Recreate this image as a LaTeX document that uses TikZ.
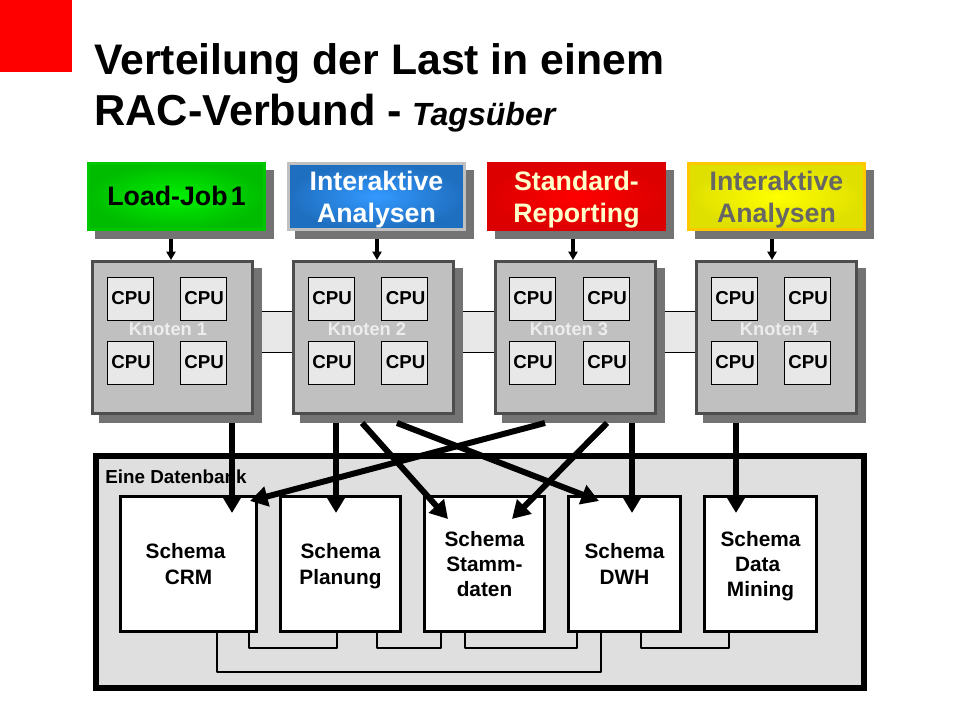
\documentclass[tikz,border=0pt]{standalone}
\usepackage{fontspec}
\setmainfont{Liberation Sans}
\usepackage{tikz}
\usetikzlibrary{arrows.meta,calc,shadows}
\definecolor{shadowgray}{HTML}{737373}
\definecolor{knotengray}{HTML}{C0C0C0}
\definecolor{knotenedge}{HTML}{4D4D4D}
\definecolor{cpugray}{HTML}{E8E8E8}
\definecolor{dbgray}{HTML}{DFDFDF}
\definecolor{greenedge}{HTML}{00C800}
\definecolor{greenmid}{HTML}{00F000}
\definecolor{greenout}{HTML}{00BC00}
\definecolor{bluemid}{HTML}{3399FF}
\definecolor{blueout}{HTML}{1F6FC0}
\definecolor{redout}{HTML}{DD0000}
\definecolor{creamtext}{HTML}{FFFFCC}
\definecolor{yellowedge}{HTML}{FFC800}
\definecolor{yellowout}{HTML}{DFDF00}
\definecolor{graytext}{HTML}{666666}

\begin{document}
\begin{tikzpicture}[x=0.025cm,y=0.025cm]
                \tikzstyle{every node}+=[inner sep=0pt]
                \tikzstyle{boxshadow}=[drop shadow={shadow xshift=0.2cm,shadow yshift=-0.2cm,fill=shadowgray,draw=shadowgray,opacity=1}]
                \tikzstyle{jobbox}=[rectangle,line width=2.1pt,minimum width=4.4cm,minimum height=1.65cm,align=center,font=\bfseries\fontsize{19}{22.7}\selectfont,boxshadow]
                \tikzstyle{twolines}=[text depth=-0.3pt]
                \tikzstyle{knotenbox}=[rectangle,draw=knotenedge,fill=knotengray,line width=2.1pt,minimum width=4cm,minimum height=3.8cm,boxshadow]
                \tikzstyle{knotenlabel}=[text=white!93!black,font=\bfseries\fontsize{13}{15}\selectfont]
                \tikzstyle{cpubox}=[rectangle,draw=black,fill=cpugray,line width=0.6pt,minimum width=1.15cm,minimum height=1.075cm,font=\bfseries\fontsize{13.3}{15}\selectfont,execute at begin node={\kern 1.5pt}]
                \tikzstyle{bandbox}=[rectangle,fill=cpugray,outer sep=0pt,minimum height=1.025cm]
                \tikzstyle{schemabox}=[rectangle,draw=black,fill=white,line width=2.1pt,minimum height=3.375cm,align=center,font=\bfseries\fontsize{14.8}{18}\selectfont,text depth=-1.16pt]
                \tikzstyle{busline}=[black,line width=2pt,line join=round]
                \tikzstyle{bigarrow}=[black,line width=4.25pt,-{Triangle[length=12.5pt,width=14pt]}]
                \tikzstyle{smallarrow}=[black,line width=2.3pt,-{Triangle[length=6pt,width=6.5pt]}]
                \useasboundingbox (0,0) rectangle (960,-720);
                \fill [red] (0,0) rectangle (72,-72);
                \node (titleone) [anchor=base west,font=\bfseries\fontsize{30.4}{36}\selectfont] at (94,-75) {Verteilung der Last in einem};
                \node (titletwo) [anchor=base west,font=\bfseries\fontsize{30.8}{36}\selectfont] at (94,-126) {RAC-Verbund - \kern-1.5pt{\itshape\fontsize{22.8}{26}\selectfont Tagsüber}};
                \node (db) [rectangle,draw=black,fill=dbgray,line width=4.25pt,minimum width=19.2cm,minimum height=5.8cm] at (480,-572) {};
                \node (dblabel) [anchor=base west,font=\bfseries\fontsize{13.4}{16}\selectfont] at (105,-484) {Eine Datenbank};
                \node (crm) [schemabox,minimum width=3.4cm] at (188.5,-564) {Schema\kern.28em\\CRM};
                \node (planung) [schemabox,minimum width=3cm] at (340.5,-564) {Schema\\Planung};
                \node (stamm) [schemabox,minimum width=3cm] at (484.5,-564) {Schema\\Stamm-\\daten};
                \node (dwh) [schemabox,minimum width=2.8cm] at (624.5,-564) {Schema\\DWH};
                \node (mining) [schemabox,minimum width=2.8cm] at (760.5,-564) {Schema\\Data\kern.28em\\Mining};
                \draw [busline] ($(crm.south)+(60.5,0)$) -- ++(0,-15) -| ($(planung.south)+(-3.5,0)$);
                \draw [busline] ($(planung.south)+(36.5,0)$) -- ++(0,-15) -| ($(stamm.south)+(-43.5,0)$);
                \draw [busline] ($(stamm.south)+(-19.5,0)$) -- ++(0,-15) -| ($(dwh.south)+(-47.5,0)$);
                \draw [busline] ($(dwh.south)+(16.5,0)$) -- ++(0,-15) -| ($(mining.south)+(-31.5,0)$);
                \draw [busline] ($(crm.south)+(28.5,0)$) -- ++(0,-39) -| ($(dwh.south)+(-23.5,0)$);
                \node (bandone) [bandbox,minimum width=0.95cm] at (273,-331.5) {};
                \node (bandtwo) [bandbox,minimum width=0.975cm] at (474.5,-331.5) {};
                \node (bandthree) [bandbox,minimum width=0.95cm] at (676,-331.5) {};
                \draw [black,line width=0.6pt] (bandone.north west) -- (bandone.north east);
                \draw [black,line width=0.6pt] (bandone.south west) -- (bandone.south east);
                \draw [black,line width=0.6pt] (bandtwo.north west) -- (bandtwo.north east);
                \draw [black,line width=0.6pt] (bandtwo.south west) -- (bandtwo.south east);
                \draw [black,line width=0.6pt] (bandthree.north west) -- (bandthree.north east);
                \draw [black,line width=0.6pt] (bandthree.south west) -- (bandthree.south east);
                \node (knotenone) [knotenbox] at (172.5,-337.5) {};
                \node (knotentwo) [knotenbox] at (373.5,-337.5) {};
                \node (knotenthree) [knotenbox] at (575.5,-337.5) {};
                \node (knotenfour) [knotenbox] at (776.5,-337.5) {};
                \draw [bigarrow] ($(knotenone.south)+(59.5,-8)$) -- ($(crm.north)+(43.5,-18)$);
                \draw [bigarrow] ($(knotentwo.south)+(-37.5,-8)$) -- ($(planung.north)+(-4.5,-18)$);
                \draw [bigarrow] ($(knotentwo.south)+(-11.4,-8)$) -- ($(stamm.north)+(-36.5,-24)$);
                \draw [bigarrow] ($(knotentwo.south)+(23.5,-8)$) -- ($(dwh.north)+(-25.5,-6)$);
                \draw [bigarrow] ($(knotenthree.south)+(-30.5,-8)$) -- ($(crm.north)+(61.5,-6)$);
                \draw [bigarrow] ($(knotenthree.south)+(31.5,-8)$) -- ($(stamm.north)+(27.5,-24)$);
                \draw [bigarrow] ($(knotenthree.south)+(56.5,-8)$) -- ($(dwh.north)+(7.5,-18)$);
                \draw [bigarrow] ($(knotenfour.south)+(-40.5,-8)$) -- ($(mining.north)+(-24.5,-18)$);
                \node (jobone) [jobbox,draw=greenedge,shade,inner color=greenmid,outer color=greenout] at (176.5,-196.5) {\rule[-1.5pt]{0pt}{1pt}Load-Job\kern.12em 1};
                \node (jobtwo) [jobbox,twolines,draw=knotengray,shade,inner color=bluemid,outer color=blueout,text=white] at (376.5,-196.5) {Interaktive\\Analysen};
                \node (jobthree) [jobbox,twolines,draw=redout,shade,inner color=red,outer color=redout,text=creamtext] at (576.5,-196.5) {Standard-\\Reporting};
                \node (jobfour) [jobbox,twolines,draw=yellowedge,shade,inner color=yellow,outer color=yellowout,text=graytext] at (776.5,-196.5) {Interaktive\\Analysen};
                \draw [smallarrow] ($(jobone.south)+(-5.5,-8)$) -- ($(knotenone.north)+(-1.5,0)$);
                \draw [smallarrow] ($(jobtwo.south)+(0.5,-8)$) -- ($(knotentwo.north)+(3.5,0)$);
                \draw [smallarrow] ($(jobthree.south)+(-3.5,-8)$) -- ($(knotenthree.north)+(-2.5,0)$);
                \draw [smallarrow] ($(jobfour.south)+(-4.5,-8)$) -- ($(knotenfour.north)+(-4.5,0)$);
                \node (cpuonea) [cpubox] at (130,-298.5) {CPU};
                \node (cpuoneb) [cpubox] at (203,-298.5) {CPU};
                \node (cpuonec) [cpubox] at (130,-362.5) {CPU};
                \node (cpuoned) [cpubox] at (203,-362.5) {CPU};
                \node (cputwoa) [cpubox] at (331,-298.5) {CPU};
                \node (cputwob) [cpubox] at (404.5,-298.5) {CPU};
                \node (cputwoc) [cpubox] at (331,-362.5) {CPU};
                \node (cputwod) [cpubox] at (404.5,-362.5) {CPU};
                \node (cputhreea) [cpubox] at (532,-298.5) {CPU};
                \node (cputhreeb) [cpubox] at (606,-298.5) {CPU};
                \node (cputhreec) [cpubox] at (532,-362.5) {CPU};
                \node (cputhreed) [cpubox] at (606,-362.5) {CPU};
                \node (cpufoura) [cpubox] at (734,-298.5) {CPU};
                \node (cpufourb) [cpubox] at (807,-298.5) {CPU};
                \node (cpufourc) [cpubox] at (734,-362.5) {CPU};
                \node (cpufourd) [cpubox] at (807,-362.5) {CPU};
                \node (labelone) [knotenlabel] at (168,-329) {Knoten 1};
                \node (labeltwo) [knotenlabel] at (367,-329) {Knoten 2};
                \node (labelthree) [knotenlabel] at (569,-329) {Knoten 3};
                \node (labelfour) [knotenlabel] at (779,-329) {Knoten 4};
            \end{tikzpicture}
\end{document}
